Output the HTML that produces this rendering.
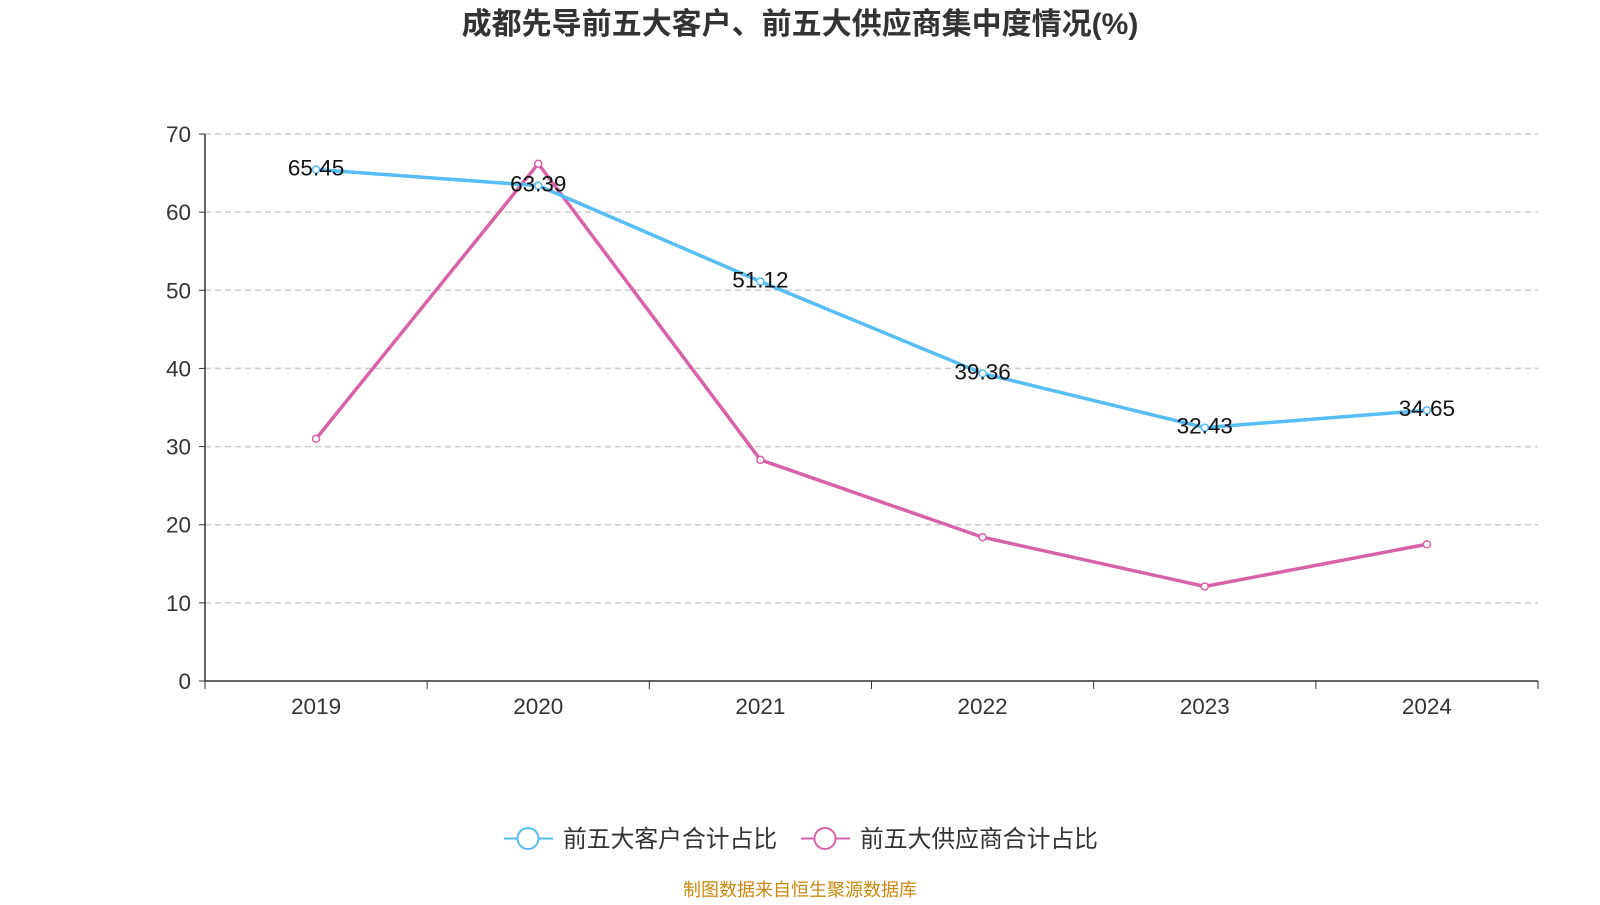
<!DOCTYPE html>
<html><head><meta charset="utf-8"><style>
html,body{margin:0;padding:0;background:#fff;}
body{width:1600px;height:900px;overflow:hidden;font-family:"Liberation Sans","Noto Sans CJK SC",sans-serif;}
</style></head><body>
<svg id="chart" width="1600" height="900" xmlns="http://www.w3.org/2000/svg" font-family="Liberation Sans, Noto Sans CJK SC, sans-serif">
<text x="800" y="34" text-anchor="middle" font-size="30" font-weight="bold" fill="#333">成都先导前五大客户、前五大供应商集中度情况(%)</text>
<g id="grid"></g><g id="axes"></g><g id="series"></g>
<g>
<g>
<line x1="504" y1="838.5" x2="553" y2="838.5" stroke="#56bdf5" stroke-width="2"/>
<circle cx="528" cy="838.5" r="10.5" fill="#fff" stroke="#56bdf5" stroke-width="2"/>
<text x="563" y="847" font-size="23.8" fill="#333">前五大客户合计占比</text></g>
<g>
<line x1="801" y1="838.5" x2="850" y2="838.5" stroke="#d862a8" stroke-width="2"/>
<circle cx="825" cy="838.5" r="10.5" fill="#fff" stroke="#d862a8" stroke-width="2"/>
<text x="860" y="847" font-size="23.8" fill="#333">前五大供应商合计占比</text></g>
</g>
<text x="800" y="896" text-anchor="middle" font-size="18" fill="#c8880f">制图数据来自恒生聚源数据库</text>
</svg>
<script>
const categories=["2019","2020","2021","2022","2023","2024"];
const customerValues=[65.45,63.39,51.12,39.36,32.43,34.65];
const supplierValues=[31.0,66.2,28.3,18.4,12.1,17.5];
const yTicks=[0,10,20,30,40,50,60,70];
const NS="http://www.w3.org/2000/svg";
const x0=205,x1=1538,yBase=681,yTop=134,yMax=70;
const band=(x1-x0)/categories.length;
function xs(i){return x0+band*(i+0.5);}
function ys(v){return yBase-(v/yMax)*(yBase-yTop);}
function mk(tag,attrs,parent){const e=document.createElementNS(NS,tag);for(const k in attrs)e.setAttribute(k,attrs[k]);parent.appendChild(e);return e;}
const grid=document.getElementById('grid'),axes=document.getElementById('axes'),series=document.getElementById('series');
yTicks.forEach(t=>{
 const y=ys(t);
 if(t>0){const g=mk('line',{x1:x0,x2:x1,y1:y,y2:y,stroke:'#ccc','stroke-dasharray':'6,4','stroke-width':1.5},grid);
 
 }
 mk('line',{x1:x0-6,x2:x0,y1:y,y2:y,stroke:'#333'},axes);
 const tx=mk('text',{x:x0-14,y:y+8,'text-anchor':'end','font-size':22.5,fill:'#333'},axes);
 tx.textContent=t;
 
 
});
mk('line',{x1:x0,x2:x0,y1:yTop,y2:yBase,stroke:'#333','stroke-width':1.5},axes);
mk('line',{x1:x0,x2:x1,y1:yBase,y2:yBase,stroke:'#333','stroke-width':1.5},axes);
for(let i=0;i<=categories.length;i++){const x=x0+band*i;mk('line',{x1:x,x2:x,y1:yBase,y2:yBase+8,stroke:'#333'},axes);}
categories.forEach((c,i)=>{
 const t=mk('text',{x:xs(i),y:yBase+33,'text-anchor':'middle','font-size':22.5,fill:'#333'},axes);
 t.textContent=c;
 
 
});
function draw(vals,color,name,labels){
 const p=mk('polyline',{points:vals.map((v,i)=>xs(i)+','+ys(v)).join(' '),fill:'none',stroke:color,'stroke-width':3.5},series);
 
 
 vals.forEach((v,i)=>{
  const c=mk('circle',{cx:xs(i),cy:ys(v),r:3.5,fill:'#fff',stroke:color,'stroke-width':1.5},series);
  
  
  if(labels){const t=mk('text',{x:xs(i),y:ys(v)+6,'text-anchor':'middle','font-size':22.5,fill:'#111'},series);
  t.textContent=v.toFixed(2);
  
  }
 });
}
draw(supplierValues,'#d862a8','suppliers',false);
draw(customerValues,'#56bdf5','customers',true);
</script>
</body></html>
